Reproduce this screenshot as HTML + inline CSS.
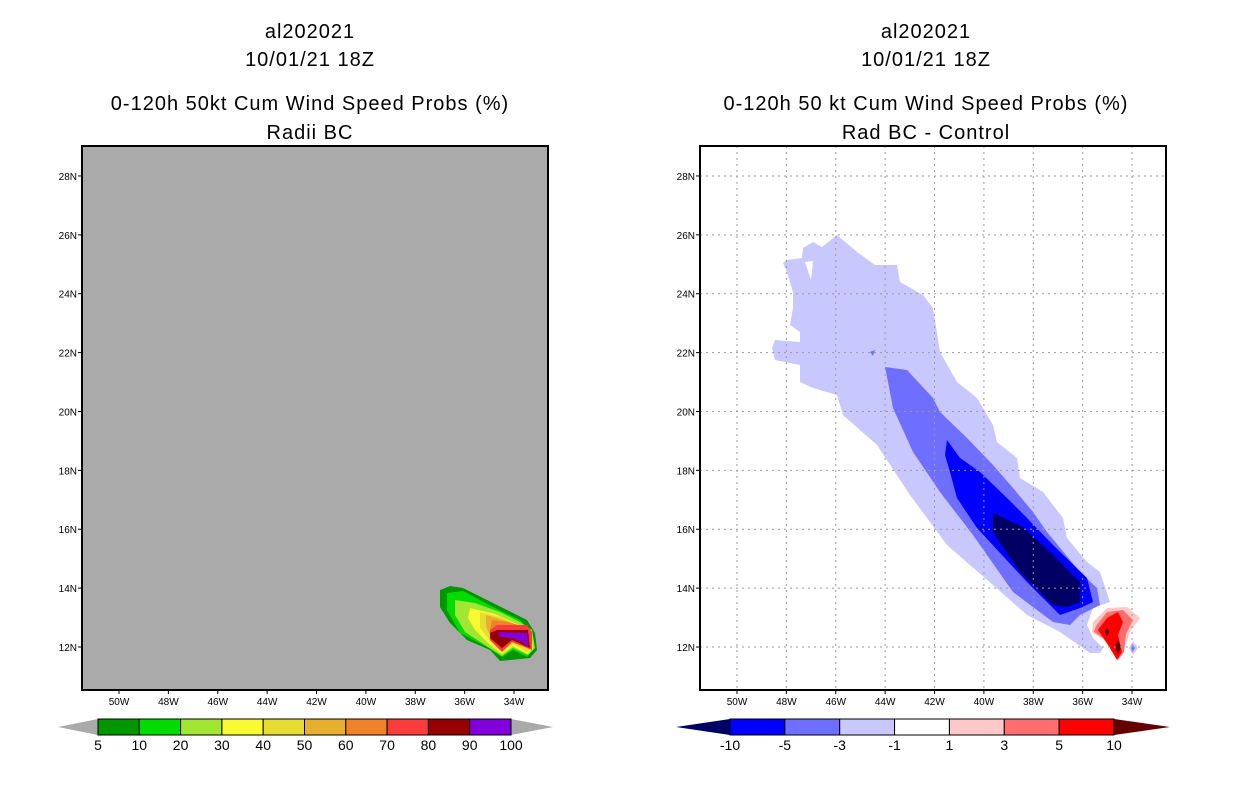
<!DOCTYPE html>
<html><head><meta charset="utf-8"><style>
html,body{margin:0;padding:0;background:#fff;}
svg{display:block;font-family:"Liberation Sans",sans-serif;}
.t{font-size:20px;text-anchor:middle;fill:#000;letter-spacing:1px}
.ax{font-size:10px;fill:#000}
.cb{font-size:14px;text-anchor:middle;fill:#000}
</style></head><body>
<svg id="chart" width="1236" height="800" viewBox="0 0 1236 800">
<g id="titles">
<text class="t" x="310" y="38">al202021</text>
<text class="t" x="310" y="66">10/01/21 18Z</text>
<text class="t" x="310" y="110">0-120h 50kt Cum Wind Speed Probs (%)</text>
<text class="t" x="310" y="139">Radii BC</text>
<text class="t" x="926" y="38">al202021</text>
<text class="t" x="926" y="66">10/01/21 18Z</text>
<text class="t" x="926" y="110">0-120h 50 kt Cum Wind Speed Probs (%)</text>
<text class="t" x="926" y="139">Rad BC - Control</text>
</g>
<g id="left"></g>
<g id="right"></g>
<g id="cbars"></g>
</svg>
<script>
const lonTicks=[-50,-48,-46,-44,-42,-40,-38,-36,-34];
const latTicks=[12,14,16,18,20,22,24,26,28];
const leftLevels=["5","10","20","30","40","50","60","70","80","90","100"];
const leftColors=["#009600","#00dc00","#a0e632","#fafa32","#e6dc32","#e6af2d","#f08228","#fa3c3c","#960000","#8200dc"];
const rightLevels=["-10","-5","-3","-1","1","3","5","10"];
const rightColors=["#0000ff","#6e6eff","#c8c8ff","#ffffff","#ffc8c8","#ff6e6e","#ff0000"];
// contour polygons (pixel positions in left map frame)
const leftContours=[
[[440,590],[450,586],[463,588],[477,595],[493,603],[507,610],[527,620],[535,633],[537,650],[530,658],[500,661],[490,650],[467,640],[450,623],[440,607]],
[[447,593],[463,591],[493,607],[520,620],[532,633],[533,650],[527,657],[513,650],[502,657],[487,647],[460,633],[447,610]],
[[455,600],[475,603],[500,612],[520,622],[532,630],[535,648],[528,655],[513,648],[502,656],[485,645],[465,632],[455,615]],
[[470,608],[495,614],[517,624],[530,630],[533,648],[527,654],[513,646],[502,654],[488,643],[475,630],[468,618]],
[[480,612],[500,617],[520,626],[530,631],[532,648],[527,652],[513,644],[502,652],[490,641],[480,628]],
[[486,615],[503,620],[522,627],[530,632],[531,648],[512,642],[502,650],[492,640],[486,626]],
[[492,620],[508,622],[525,627],[531,632],[531,648],[512,641],[502,649],[494,640],[490,630]],
[[490,630],[497,625],[527,625],[532,632],[532,650],[512,642],[502,652],[490,640]],
[[490,633],[497,630],[528,630],[530,648],[512,640],[502,648],[490,638]],
[[498,632],[527,633],[528,647],[523,642],[512,638],[500,637]]];
const rightContours=[
{c:"#c8c8ff",p:[[837,235],[857,252],[875,265],[897,265],[900,282],[923,295],[933,308],[940,352],[957,382],[977,398],[993,425],[997,442],[1017,458],[1020,478],[1043,492],[1063,518],[1067,538],[1087,562],[1100,572],[1110,602],[1093,608],[1087,625],[1093,638],[1103,648],[1100,653],[1090,653],[1060,632],[1027,615],[993,585],[947,545],[910,495],[877,445],[843,415],[837,395],[813,388],[800,382],[800,365],[775,360],[772,348],[775,340],[800,342],[800,332],[790,325],[793,308],[793,292],[787,272],[783,263],[787,260],[802,258],[803,248],[813,242],[822,247]]},
{c:"#ffffff",p:[[805,262],[813,261],[811,280]]},
{c:"#6e6eff",p:[[885,367],[907,370],[933,398],[940,412],[967,438],[993,465],[1013,488],[1033,512],[1047,532],[1080,572],[1097,588],[1100,605],[1080,615],[1070,625],[1053,622],[1013,592],[973,535],[940,492],[913,452],[893,408],[888,382]]},
{c:"#0000ff",p:[[947,440],[960,458],[980,472],[1007,498],[1027,518],[1053,545],[1087,578],[1093,602],[1080,608],[1060,615],[1027,582],[977,528],[957,498],[950,472],[945,455]]},
{c:"#000064",p:[[993,513],[1023,527],[1053,555],[1080,582],[1080,602],[1067,607],[1053,605],[1020,572],[993,532]]},
{c:"#6e6eff",p:[[870,352],[875,350],[873,356]]},
{c:"#ffc8c8",p:[[1093,622],[1107,608],[1127,607],[1140,618],[1130,632],[1125,648],[1120,658],[1113,652],[1107,642],[1092,632]]},
{c:"#ff6e6e",p:[[1096,626],[1107,612],[1123,610],[1133,620],[1126,634],[1124,652],[1118,660],[1111,650],[1106,640],[1094,632]]},
{c:"#ff0000",p:[[1098,630],[1107,618],[1118,612],[1123,622],[1118,635],[1122,652],[1117,660],[1110,648]]},
{c:"#640000",p:[[1107,627],[1109,632],[1107,637],[1105,632]]},
{c:"#640000",p:[[1118,640],[1121,647],[1118,654],[1115,647]]},
{c:"#c8c8ff",p:[[1133,641],[1138,648],[1133,655],[1129,648]]},
{c:"#6e6eff",p:[[1133,645],[1135,648],[1133,651],[1131,648]]}];
const NS="http://www.w3.org/2000/svg";
function mk(t,a,parent){const e=document.createElementNS(NS,t);for(const k in a)e.setAttribute(k,a[k]);parent.appendChild(e);return e;}
function makeMap(g,x0,fill,grid){
  const X=lon=>x0+37+(lon+50)*24.69;
  const Y=lat=>647-(lat-12)*29.44;
  const bg=mk("rect",{x:x0,y:146,width:466,height:544,fill:fill},g);
  
  
  return {X,Y};
}
function axes(g,x0,X,Y,grid){
  lonTicks.forEach(l=>{
    const x=X(l);
    if(grid){const ln=mk("line",{x1:x,x2:x,y1:146,y2:690,stroke:"#999","stroke-dasharray":"2,4"},g);
      
      }
    mk("line",{x1:x,x2:x,y1:690,y2:694,stroke:"#000"},g);
    const t=mk("text",{x:x,y:705,class:"ax","text-anchor":"middle"},g);t.textContent=(-l)+"W";
    
    
  });
  latTicks.forEach(l=>{
    const y=Y(l);
    if(grid){const ln=mk("line",{x1:x0,x2:x0+466,y1:y,y2:y,stroke:"#999","stroke-dasharray":"2,4"},g);
      
      }
    mk("line",{x1:x0-4,x2:x0,y1:y,y2:y,stroke:"#000"},g);
    const t=mk("text",{x:x0-5,y:y+4,class:"ax","text-anchor":"end"},g);t.textContent=l+"N";
    
    
  });
  const fr=mk("rect",{x:x0,y:146,width:466,height:544,fill:"none",stroke:"#000","stroke-width":2},g);
  
  
}
const L=document.getElementById("left"),R=document.getElementById("right");
const a1=makeMap(L,82,"#aaaaaa");
axes(L,82,a1.X,a1.Y,false);
leftContours.forEach((p,i)=>{
  const e=mk("polygon",{points:p.map(q=>q.join(",")).join(" "),fill:leftColors[i]},L);
  
  
});
const a2=makeMap(R,700,"#ffffff");
rightContours.forEach((o,i)=>{
  const e=mk("polygon",{points:o.p.map(q=>q.join(",")).join(" "),fill:o.c},R);
  
  
});
axes(R,700,a2.X,a2.Y,true);
// redraw frame on top of left contours
const lf=mk("rect",{x:82,y:146,width:466,height:544,fill:"none",stroke:"#000","stroke-width":2},L);


function cbar(x0,x1,tipL,tipR,cols,labs,lc,rc){
  const C=document.getElementById("cbars");
  const w=(x1-x0)/cols.length;
  const tl=mk("polygon",{points:`${tipL},727 ${x0},719 ${x0},735`,fill:lc},C);
  
  
  const tr=mk("polygon",{points:`${tipR},727 ${x1},719 ${x1},735`,fill:rc},C);
  
  
  cols.forEach((c,i)=>{
    const r=mk("rect",{x:x0+i*w,y:719,width:w,height:16,fill:c,stroke:"#000","stroke-width":1},C);
    
    
  });
  labs.forEach((l,i)=>{
    const t=mk("text",{x:x0+i*w,y:750,class:"cb"},C);t.textContent=l;
    
    
  });
}
cbar(98,511,58,553,leftColors,leftLevels,"#aaaaaa","#aaaaaa");
cbar(730,1114,676,1170,rightColors,rightLevels,"#000064","#640000");
</script>
</body></html>
